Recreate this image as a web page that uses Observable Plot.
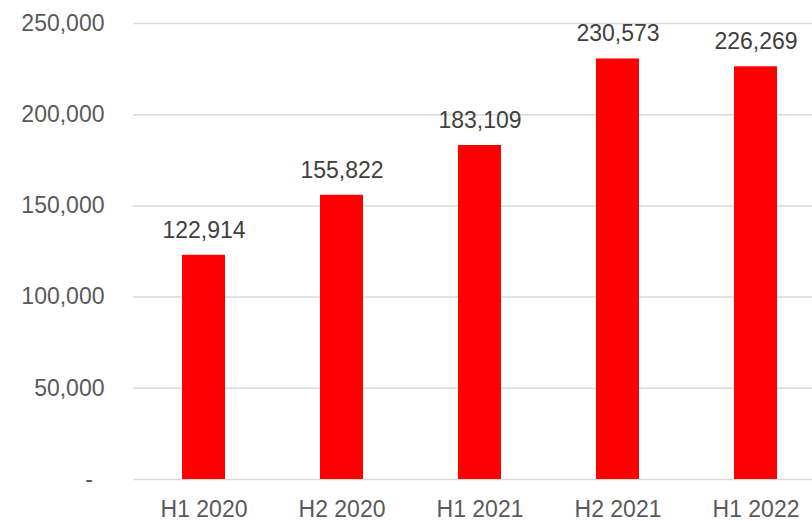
<!DOCTYPE html>
<html>
<head>
<meta charset="utf-8">
<script src="https://cdn.jsdelivr.net/npm/d3@7"></script>
<script src="https://cdn.jsdelivr.net/npm/@observablehq/plot@0.6"></script>
<style>
  html, body { margin: 0; padding: 0; background: #fff; overflow: hidden; }
</style>
</head>
<body>
<div id="chart"></div>
<script>
const categories = ["H1 2020", "H2 2020", "H1 2021", "H2 2021", "H1 2022"];
const values = [122914, 155822, 183109, 230573, 226269];
const yTicks = [0, 50000, 100000, 150000, 200000, 250000];

const data = categories.map((c, i) => ({ period: c, value: values[i] }));
const fmt = d3.format(",");

const chart = Plot.plot({
  width: 812,
  height: 521,
  marginTop: 23,
  marginBottom: 42,
  marginLeft: 133,
  marginRight: 0,
  style: { fontFamily: "'Liberation Sans', Arial, sans-serif", fontSize: "23px", background: "#fff", overflow: "hidden" },
  x: { domain: categories, range: [133, 826], paddingInner: 0.69, paddingOuter: 0.345, label: null },
  y: { domain: [0, 250000], label: null },
  marks: [
    Plot.ruleY(yTicks, { stroke: "#d9d9d9", strokeWidth: 1.5 }),
    Plot.barY(data, { x: "period", y: "value", fill: "#ff0000" }),
    Plot.text(data, { x: "period", y: "value", text: d => fmt(d.value), dy: -25, fill: "#404040", fontSize: 23 }),
    Plot.axisX({ tickSize: 0, tickPadding: 21, fill: "#595959", fontSize: 23, label: null }),
    Plot.axisY(yTicks, { tickSize: 0, tickPadding: 29, fill: "#595959", fontSize: 23, label: null,
      tickFormat: d => d === 0 ? "-\u2002" : fmt(d) })
  ]
});
document.getElementById("chart").appendChild(chart);
</script>
</body>
</html>
